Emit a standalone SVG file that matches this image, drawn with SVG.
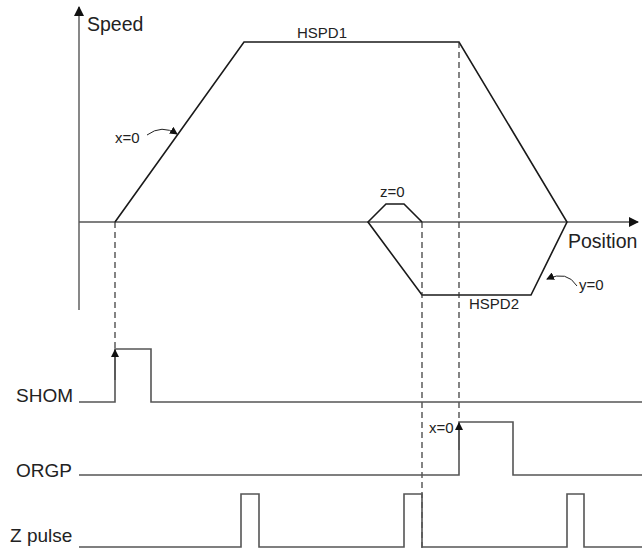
<svg xmlns="http://www.w3.org/2000/svg" width="642" height="552" viewBox="0 0 642 552">
<style>
text{font-family:"Liberation Sans",Arial,sans-serif;fill:#222}
.big{font-size:19.5px}
.sm{font-size:15px}
.mid{font-size:19px}
.ln{fill:none;stroke:#1a1a1a;stroke-width:1.6}
.ax{fill:none;stroke:#555;stroke-width:1.4}
.sig{fill:none;stroke:#555;stroke-width:1.6}
.dash{fill:none;stroke:#333;stroke-width:1.2;stroke-dasharray:6,4}
.cv{fill:none;stroke:#222;stroke-width:1}
</style>
<defs>
<marker id="ah" markerWidth="10" markerHeight="10" refX="9" refY="5" orient="auto" markerUnits="userSpaceOnUse">
<path d="M0,0 L10,5 L0,10 Z" fill="#111"/>
</marker>
<marker id="ahs" markerWidth="8" markerHeight="8" refX="7" refY="4" orient="auto" markerUnits="userSpaceOnUse">
<path d="M0,0 L8,4 L0,8 Z" fill="#111"/>
</marker>
</defs>
<g id="axes">
<line class="ax" x1="79" y1="310" x2="79" y2="7" marker-end="url(#ah)"/>
<line class="ax" x1="79" y1="222" x2="638" y2="222" marker-end="url(#ah)"/>
<text class="big" x="87" y="31">Speed</text>
<text class="big" x="568" y="248">Position</text>
</g>
<g id="speed-profile">
<polyline class="ln" points="115,222 244,42 459,42 567,222 531,295 422,295 368,222 386,204 404,204 422,222"/>
<text class="sm" x="297" y="38">HSPD1</text>
<text class="sm" x="469" y="309">HSPD2</text>
<text class="sm" x="380" y="197">z=0</text>
</g>
<g id="labels-curves">
<text class="sm" x="115" y="143">x=0</text>
<path class="cv" d="M147,135 Q162,124 177,134" marker-end="url(#ahs)"/>
<text class="sm" x="579" y="290">y=0</text>
<path class="cv" d="M577,286 Q567,270 547,279" marker-end="url(#ahs)"/>
</g>
<g id="connectors">
<line class="dash" x1="115" y1="222" x2="115" y2="349"/>
<line class="dash" x1="459" y1="42" x2="459" y2="422"/>
<line class="dash" x1="422" y1="222" x2="422" y2="552"/>
</g>
<g id="shom">
<text class="mid" x="16" y="402">SHOM</text>
<polyline class="sig" points="79,402 115,402 115,349 151,349 151,402 642,402"/>
<line class="sig" x1="115" y1="380" x2="115" y2="350" marker-end="url(#ahs)" stroke="#111"/>
</g>
<g id="orgp">
<text class="mid" x="16" y="477">ORGP</text>
<polyline class="sig" points="79,475 459,475 459,422 513,422 513,475 642,475"/>
<line class="sig" x1="459" y1="450" x2="459" y2="423" marker-end="url(#ahs)" stroke="#111"/>
<text class="sm" x="429" y="433">x=0</text>
</g>
<g id="zpulse">
<text class="mid" x="10" y="542">Z pulse</text>
<polyline class="sig" points="79,547 241,547 241,494 259,494 259,547 404,547 404,494 422,494 422,547 567,547 567,494 584,494 584,547 642,547"/>
</g>
</svg>
